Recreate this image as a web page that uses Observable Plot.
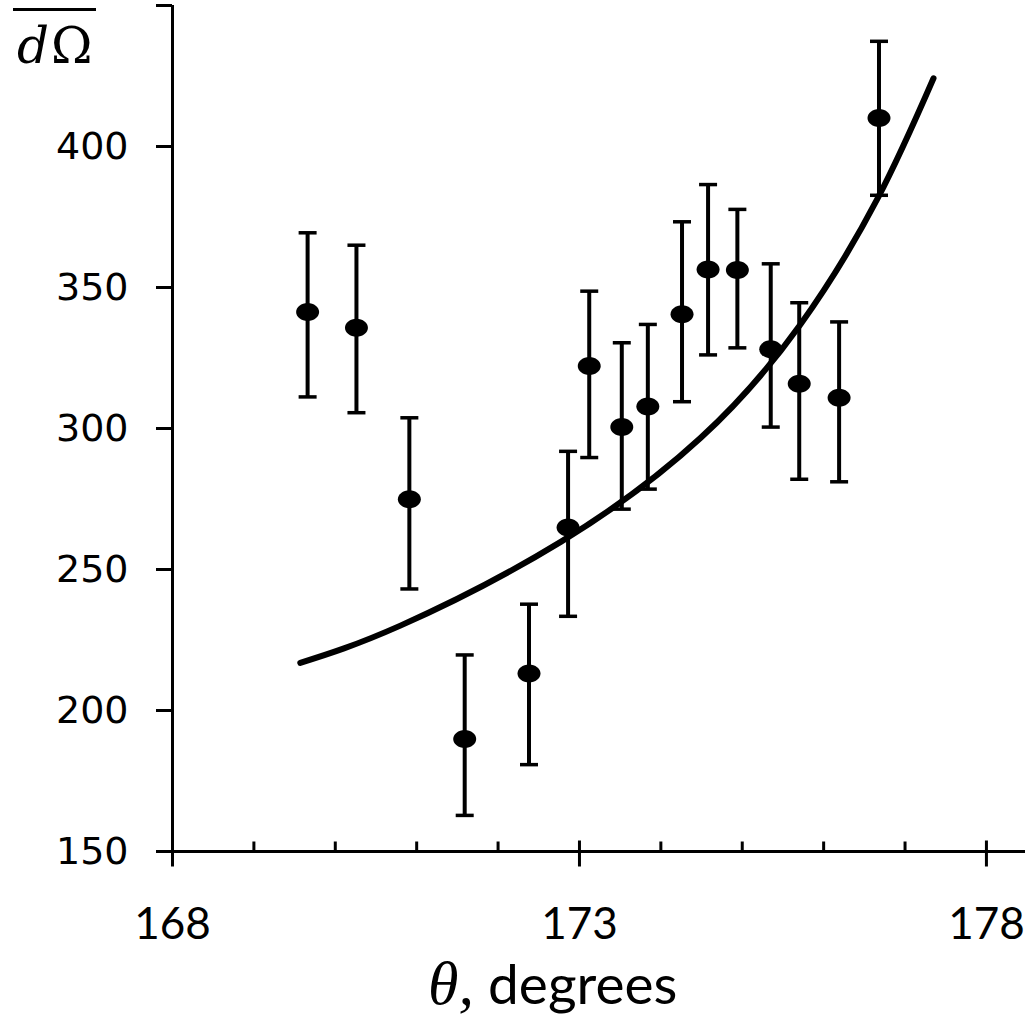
<!DOCTYPE html>
<html>
<head>
<meta charset="utf-8">
<script src="https://cdn.jsdelivr.net/npm/d3@7"></script>
<script src="https://cdn.jsdelivr.net/npm/@observablehq/plot@0.6"></script>
<style>
  html, body { margin: 0; padding: 0; background: #fff; }
  #wrap { position: relative; width: 1025px; height: 1017px; overflow: hidden; color: #000; }
  #ylab { position: absolute; left: 13px; top: 8px; border-top: 3px solid #000; padding: 6px 2px 0 4px;
          font-family: "DejaVu Serif", serif; font-size: 50px; line-height: 58px; letter-spacing: 2px; }
  #ylab i { font-style: italic; }
  #xlab { position: absolute; left: 428px; top: 950px; white-space: nowrap;
          font-family: Lato, sans-serif; font-size: 55px; line-height: 66px; }
  #xlab i { font-family: "Liberation Serif", serif; font-style: italic; font-size: 62px; }
</style>
</head>
<body>
<div id="wrap">
  <div id="chart"></div>
  <div id="ylab"><i>d</i>Ω</div>
  <div id="xlab"><i>θ,</i> degrees</div>
</div>
<script>
// measured points: angle (degrees), value, error bar ends
const theta  = [169.66, 170.26, 170.91, 171.59, 172.38, 172.86, 173.12, 173.52, 173.84, 174.26, 174.58, 174.94, 175.35, 175.70, 176.19, 176.68];
const sigma  = [341.3, 335.7, 274.9, 189.9, 213.1, 264.9, 322.2, 300.5, 307.8, 340.5, 356.4, 356.2, 328.1, 315.9, 310.9, 410.1];
const errHi  = [369.4, 365.0, 303.8, 219.7, 237.7, 291.9, 348.7, 330.4, 336.9, 373.3, 386.5, 377.7, 358.4, 344.6, 337.8, 437.3];
const errLo  = [311.2, 305.6, 243.1, 162.8, 180.8, 233.4, 289.7, 271.4, 278.5, 309.5, 326.1, 328.6, 300.5, 282.0, 281.1, 382.7];

// fitted curve
const fitTheta = [169.57, 170.80, 172.77, 174.49, 175.71, 176.66, 177.35];
const fitSigma = [216.9, 230.1, 259.8, 296.7, 336.7, 381.4, 424.2];

// axis ticks
const xMajor = [168, 173, 178];
const xMinor = [169, 170, 171, 172, 174, 175, 176, 177];
const yTicks = [150, 200, 250, 300, 350, 400];
const yTopTick = [450];
const xDomain = [168, 178.48];
const yDomain = [150, 450];

const points = theta.map((t, i) => ({t, s: sigma[i], hi: errHi[i], lo: errLo[i]}));
const fit = fitTheta.map((t, i) => ({t, s: fitSigma[i]}));
const caps = points.flatMap(d => [{t: d.t, v: d.hi}, {t: d.t, v: d.lo}]);

const hcap = {draw(ctx) { ctx.moveTo(-9, 0); ctx.lineTo(9, 0); }};
const blob = {draw(ctx) {
  const rx = 11.5, ry = 9, k = 0.5523;
  ctx.moveTo(rx, 0);
  ctx.bezierCurveTo(rx, ry * k, rx * k, ry, 0, ry);
  ctx.bezierCurveTo(-rx * k, ry, -rx, ry * k, -rx, 0);
  ctx.bezierCurveTo(-rx, -ry * k, -rx * k, -ry, 0, -ry);
  ctx.bezierCurveTo(rx * k, -ry, rx, -ry * k, rx, 0);
  ctx.closePath();
}};
const minorTick = {draw(ctx) { ctx.moveTo(0, 0); ctx.lineTo(0, -10); }};
const majorTick = {draw(ctx) { ctx.moveTo(0, -11); ctx.lineTo(0, 15); }};

const chart = Plot.plot({
  width: 1025,
  height: 950,
  marginLeft: 172,
  marginRight: 0,
  marginTop: 5,
  marginBottom: 99,
  style: {background: "#fff", color: "#000", overflow: "visible"},
  x: {domain: xDomain, axis: null},
  y: {domain: yDomain, axis: null},
  marks: [
    Plot.ruleY([yDomain[0]], {stroke: "#000", strokeWidth: 3}),
    Plot.ruleX([xDomain[0]], {stroke: "#000", strokeWidth: 3}),
    Plot.axisY({ticks: yTicks, tickSize: 16, tickPadding: 28, fontSize: 38, fontFamily: "DejaVu Sans", strokeWidth: 3, label: null}),
    Plot.axisY({ticks: yTopTick, tickSize: 16, tickFormat: () => "", strokeWidth: 3, label: null}),
    Plot.axisX({ticks: xMajor, tickSize: 0, tickPadding: 56, fontSize: 44, fontFamily: "Lato", label: null}),
    Plot.dot(xMinor, {x: d => d, y: () => yDomain[0], symbol: minorTick, stroke: "#000", strokeWidth: 3, fill: "none"}),
    Plot.dot(xMajor, {x: d => d, y: () => yDomain[0], symbol: majorTick, stroke: "#000", strokeWidth: 3, fill: "none"}),
    Plot.line(fit, {x: "t", y: "s", curve: "natural", stroke: "#000", strokeWidth: 6, strokeLinecap: "round"}),
    Plot.ruleX(points, {x: "t", y1: "lo", y2: "hi", stroke: "#000", strokeWidth: 4}),
    Plot.dot(caps, {x: "t", y: "v", symbol: hcap, stroke: "#000", strokeWidth: 3.5, fill: "none"}),
    Plot.dot(points, {x: "t", y: "s", symbol: blob, fill: "#000", stroke: "none"})
  ]
});
document.getElementById("chart").appendChild(chart);
</script>
</body>
</html>
